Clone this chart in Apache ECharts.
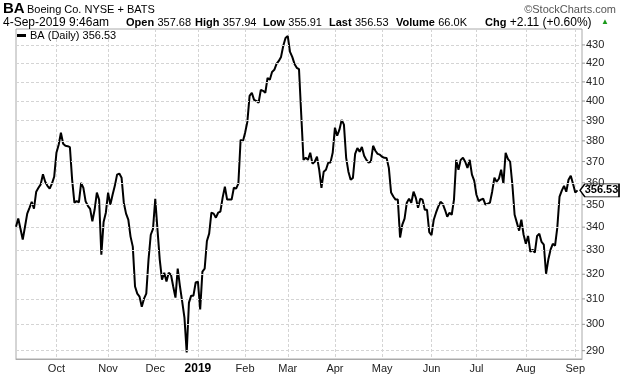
<!DOCTYPE html>
<html><head><meta charset="utf-8">
<script src="https://cdn.jsdelivr.net/npm/echarts@6/dist/echarts.min.js"></script>
<style>html,body{margin:0;padding:0;background:#fff}#c{width:620px;height:376px}</style>
</head><body><div id="c"></div>
<script>
// ---- data ----
const closes = [340.2,343.8,339.3,334.6,340.2,346.0,348.6,351.3,348.2,355.9,
357.7,359.3,364.0,360.5,358.6,357.3,359.6,362.8,374.2,378.1,
384.0,378.6,377.6,377.4,376.9,361.4,350.9,351.6,351.0,360.0,
357.7,351.5,349.5,348.1,342.6,347.7,355.5,352.3,328.2,342.3,
346.4,355.5,350.0,354.5,358.6,363.8,364.3,362.4,350.9,346.0,
343.3,335.9,331.6,315.0,312.1,310.9,306.9,310.1,312.1,326.1,
336.7,339.3,352.7,338.9,326.1,317.8,320.6,317.0,320.6,319.8,
315.0,310.5,322.3,315.0,308.9,302.6,289.3,308.5,311.3,311.3,
316.6,317.0,305.8,321.1,322.3,334.0,337.2,346.4,346.0,344.2,
346.4,346.9,353.2,358.2,352.3,352.3,352.3,357.7,357.3,359.6,
380.5,379.7,384.0,389.4,402.7,404.3,400.6,400.1,399.1,405.8,
405.3,404.3,412.1,411.1,415.3,416.4,419.6,421.2,423.4,429.5,
433.8,434.9,426.2,423.4,419.6,417.5,416.8,393.0,370.8,371.8,
370.8,374.2,369.0,369.9,372.3,366.1,357.7,365.2,366.1,369.4,
369.5,374.2,386.5,382.5,385.5,390.4,388.0,371.8,365.2,361.4,
362.3,373.7,376.5,374.7,377.0,372.8,370.8,369.5,370.0,377.6,
375.2,373.7,373.3,372.3,371.8,371.7,367.0,355.5,353.7,352.3,
352.3,335.5,341.1,343.8,350.9,352.7,350.9,355.9,353.2,348.6,
352.7,352.3,347.7,347.7,337.8,336.5,343.3,346.4,349.1,351.3,
350.4,347.7,344.6,346.4,345.5,352.3,370.8,366.1,370.8,371.8,
369.9,367.0,370.8,363.8,361.0,354.5,351.6,352.3,352.7,350.0,
350.4,350.9,355.9,362.4,360.5,361.9,366.1,359.6,374.2,371.3,
369.9,359.1,345.5,342.0,338.5,343.3,336.7,332.8,336.2,329.4,
330.3,329.0,336.2,337.1,333.6,332.4,320.2,326.1,330.3,332.8,
332.0,339.8,353.7,356.4,358.6,355.9,361.4,363.3,359.6,355.5,
356.53];
const startDate = '2018-09-05';
const endDate = '2019-09-04';
const holidays = ['2018-11-22','2018-12-05','2018-12-25','2019-01-01','2019-01-21',
  '2019-02-18','2019-04-19','2019-05-27','2019-07-04','2019-09-02'];
const padSlots = 2;
const yTicks = [290,300,310,320,330,340,350,360,370,380,390,400,410,420,430];
const monthNames = ['Jan','Feb','Mar','Apr','May','Jun','Jul','Aug','Sep','Oct','Nov','Dec'];
const lastValue = 356.53;
const seriesName = 'BA (Daily) 356.53';

// ---- categories: trading days ----
const dates = [];
{
  let d = new Date(startDate + 'T00:00:00Z');
  const end = new Date(endDate + 'T00:00:00Z');
  while (d <= end) {
    const s = d.toISOString().slice(0, 10);
    const wd = d.getUTCDay();
    if (wd !== 0 && wd !== 6 && holidays.indexOf(s) < 0) dates.push(s);
    d = new Date(d.getTime() + 86400000);
  }
}
const categories = dates.concat(new Array(padSlots).fill(''));
const monthStart = new Set();
for (let i = 1; i < dates.length; i++) {
  if (dates[i].slice(5, 7) !== dates[i - 1].slice(5, 7)) monthStart.add(i);
}
const isMonthStart = (idx) => monthStart.has(idx);

const F = '"Liberation Sans", Arial, sans-serif';
const chart = echarts.init(document.getElementById('c'), null, {renderer: 'canvas'});

function hdr(x, label, value, vs) {
  return {type: 'text', left: x, top: 17, style: {
    text: (label ? '{b|' + label + '} ' : '') + '{n|' + value + '}',
    rich: {b: {fontSize: 11, fontWeight: 'bold', fontFamily: F, fill: '#000'},
           n: {fontSize: vs || 11, fontFamily: F, fill: '#000'}}}};
}

chart.setOption({
  animation: false,
  backgroundColor: '#fff',
  grid: {left: 16, right: 38, top: 29, bottom: 17, show: true, borderColor: '#aaa', borderWidth: 1, containLabel: false},
  legend: {
    data: [seriesName], left: 17, top: 30, icon: 'rect', itemWidth: 9, itemHeight: 3,
    itemGap: 4, padding: 0, selectedMode: false,
    textStyle: {fontSize: 11, fontFamily: F, color: '#000', padding: [0, 0, 0, -1]}
  },
  xAxis: {
    type: 'category', data: categories, boundaryGap: false,
    axisLine: {show: true, lineStyle: {color: '#aaa'}},
    axisTick: {show: false},
    axisLabel: {
      interval: isMonthStart, margin: 4, fontSize: 11, fontFamily: F, color: '#222',
      formatter: (v) => {
        if (!v) return '';
        const m = +v.slice(5, 7);
        return m === 1 ? '{y|' + v.slice(0, 4) + '}' : monthNames[m - 1];
      },
      rich: {y: {fontSize: 12, fontWeight: 'bold', fontFamily: F, color: '#000'}}
    },
    splitLine: {show: true, interval: isMonthStart, lineStyle: {color: '#d4d4d4', type: [3, 2]}}
  },
  yAxis: {
    type: 'log', logBase: 10, position: 'right', min: 286.9, max: 438.9,
    axisLine: {show: false}, axisTick: {show: false}, axisLabel: {show: false}, splitLine: {show: false}
  },
  graphic: [
    {type: 'text', left: 3, top: 1, style: {text: 'BA', fontSize: 15, fontWeight: 'bold', fontFamily: F, fill: '#000'}},
    {type: 'text', left: 27, top: 4, style: {text: 'Boeing Co. NYSE + BATS', fontSize: 11, fontFamily: F, fill: '#000'}},
    {type: 'text', right: 4, top: 4, style: {text: '\u00a9StockCharts.com', fontSize: 11, fontFamily: F, fill: '#555'}},
    hdr(3, '', '4-Sep-2019 9:46am', 12),
    hdr(126, 'Open', '357.68'),
    hdr(195, 'High', '357.94'),
    hdr(263, 'Low', '355.91'),
    hdr(329, 'Last', '356.53'),
    hdr(396, 'Volume', '66.0K'),
    hdr(485, 'Chg', '+2.11 (+0.60%)', 12),
    {type: 'text', left: 601, top: 18, style: {text: '\u25B2', fontSize: 8, fontFamily: F, fill: '#1a9a1a'}}
  ],
  series: [
    {
      name: 'grid', type: 'line', data: [], z: 1, silent: true,
      markLine: {
        silent: true, symbol: 'none', animation: false,
        lineStyle: {color: '#d4d4d4', type: [3, 2], width: 1},
        label: {
          show: true, position: 'end', distance: 0,
          formatter: (p) => '{t|}{v|' + p.value + '}',
          rich: {
            t: {width: 3, height: 1, backgroundColor: '#999'},
            v: {fontSize: 11, fontFamily: F, color: '#222', padding: [0, 0, 0, 1]}
          }
        },
        data: yTicks.map(v => ({yAxis: v}))
      }
    },
    {
      name: seriesName, type: 'line', data: closes, z: 3,
      showSymbol: false, symbol: 'none', color: '#000',
      lineStyle: {color: '#000', width: 2}, emphasis: {disabled: true},
      markPoint: {
        silent: true, animation: false,
        symbol: 'path://M0,6 L5,0 L40,0 L40,12 L5,12 Z', symbolKeepAspect: false,
        symbolSize: [39, 13], symbolOffset: [22, 0],
        itemStyle: {color: '#fff', borderColor: '#000', borderWidth: 1},
        label: {show: true, position: 'inside', offset: [2, 0], fontSize: 11, fontWeight: 'bold', fontFamily: F, color: '#000',
          formatter: () => String(lastValue)},
        data: [{coord: [closes.length - 1, lastValue], value: lastValue}]
      }
    }
  ]
});
</script></body></html>
